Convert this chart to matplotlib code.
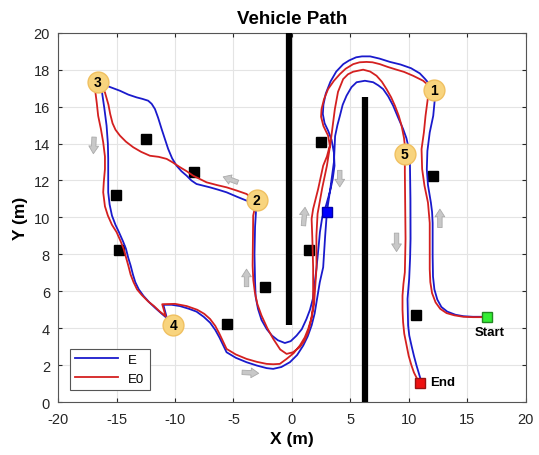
import numpy as np
import matplotlib
matplotlib.use('Agg')
import matplotlib.pyplot as plt

plt.rcParams['font.family'] = ['Liberation Sans', 'DejaVu Sans']
plt.rcParams['axes.unicode_minus'] = False

# path of controller E (blue), start -> end
e_x = [16.3, 15.5, 14.7, 14.0, 13.3, 12.8, 12.45, 12.2, 12.08, 12.05, 12.05, 12.0, 11.9, 11.65, 11.55, 11.6,
       11.8, 12.1, 12.25, 12.13,
       11.8, 11.4, 10.95, 10.2, 9.3, 8.4, 7.5, 6.7, 6.0, 5.5, 4.9, 4.4, 3.8, 3.3, 2.9, 2.7, 2.65, 2.8, 3.1,
       3.4, 3.6, 3.65, 3.5, 3.3, 2.95, 2.6, 2.4, 2.3, 2.1, 1.95, 1.8, 1.55, 1.25, 0.85, 0.4, -0.1, -0.6,
       -1.2, -1.7, -2.15, -2.6, -2.9, -3.1, -3.15, -3.2, -3.15, -3.02,
       -3.88, -4.7, -5.59, -6.3, -7.02, -8.16, -8.6, -9.01, -9.45, -9.87, -10.25, -10.59, -10.9, -11.15,
       -11.45, -11.72, -12.0, -12.3, -12.8, -13.29, -14.0, -14.72, -15.86, -16.5,
       -16.29, -16.05, -15.86, -15.75, -15.72, -15.72, -15.72, -15.6, -15.4, -15.1, -14.8, -14.45, -14.2,
       -14.0, -13.8, -13.6, -13.4, -13.1, -12.7, -12.2, -11.7, -11.2, -10.7, -11.0,
       -10.3, -9.58, -8.8, -8.16, -7.55, -7.0, -6.55, -6.2, -5.9, -5.59, -4.8, -3.88, -3.0, -2.16, -1.6,
       -0.9, -0.17, 0.45, 0.97, 1.35, 1.69, 1.95, 2.11, 2.39, 2.68, 2.85, 3.0,
       3.3, 3.6, 3.7, 3.9, 4.11, 4.35, 4.68, 5.1, 5.54, 6.25, 6.96, 7.4, 7.81, 8.25, 8.67, 9.1, 9.52,
       9.8, 9.95, 10.1, 10.15, 10.16, 10.12, 10.04, 9.9, 9.92, 9.95, 10.05, 10.24, 10.45, 10.67, 11.01]
e_y = [4.62, 4.62, 4.65, 4.73, 4.9, 5.15, 5.55, 6.1, 6.8, 7.9, 9.7, 10.3, 10.8, 11.75, 12.6, 13.6,
       14.6, 15.5, 16.5, 16.92,
       17.2, 17.5, 17.8, 18.08, 18.28, 18.42, 18.6, 18.72, 18.72, 18.67, 18.5, 18.3, 17.9, 17.35, 16.7, 16.1, 15.6, 15.1, 14.7,
       14.2, 13.5, 12.8, 12.1, 11.5, 10.7, 10.0, 9.2, 8.5, 7.2, 6.4, 5.6, 5.0, 4.5, 3.95, 3.6, 3.3, 3.2,
       3.35, 3.6, 3.95, 4.45, 5.05, 5.7, 6.5, 8.0, 9.5, 10.85,
       10.91, 11.12, 11.36, 11.5, 11.63, 11.81, 12.0, 12.26, 12.5, 12.8, 13.2, 13.71, 14.3, 14.79,
       15.4, 15.87, 16.15, 16.32, 16.42, 16.5, 16.65, 16.86, 17.13, 17.3,
       16.95, 15.9, 14.97, 14.0, 13.17, 12.2, 11.36, 10.7, 10.1, 9.6, 9.2, 8.7, 8.3,
       7.8, 7.39, 6.9, 6.49, 6.1, 5.75, 5.4, 5.1, 4.82, 4.55, 5.27,
       5.27, 5.2, 5.05, 4.9, 4.62, 4.3, 3.9, 3.5, 3.1, 2.7, 2.4, 2.16, 1.98, 1.84, 1.8,
       1.9, 2.16, 2.55, 3.06, 3.55, 4.15, 4.8, 5.41, 6.49, 7.3, 9.0, 10.3,
       11.6, 13.0, 14.4, 15.0, 15.5, 16.1, 16.59, 17.05, 17.32, 17.4, 17.32, 17.15, 16.95, 16.55, 16.05, 15.4, 14.79,
       14.3, 13.89, 13.17, 11.0, 8.84, 7.8, 6.67, 5.59, 4.9, 4.15, 3.6, 3.06, 2.5, 1.98, 1.26]

# path of controller E0 (red)
e0_x = [16.3, 15.5, 14.67, 13.9, 13.24, 12.7, 12.3, 12.0, 11.85, 11.8, 11.8, 11.8, 11.65, 11.35, 11.15, 11.1,
        11.3, 11.44, 11.67, 11.9,
        11.6, 11.24, 10.38, 9.6, 8.96, 8.2, 7.53, 6.9, 6.39, 5.8, 5.25, 4.6, 4.11, 3.6, 3.1, 2.75, 2.54, 2.5,
        2.7, 3.1, 3.25, 3.0, 2.68, 2.25, 1.82, 1.69, 1.75, 1.82, 1.82,
        1.65, 1.4, 1.05, 0.68, 0.1, -0.45, -1.0, -1.6, -2.1, -2.6, -2.95, -3.17, -3.3, -3.36, -3.33, -3.31, -3.05,
        -3.88, -4.7, -5.59, -6.4, -7.3, -8.45, -9.0, -9.58, -10.2, -10.72, -11.4, -12.15, -12.9, -13.58, -14.2,
        -14.72, -15.1, -15.35, -15.55, -15.7, -16.0, -16.5,
        -16.85, -16.7, -16.58, -16.35, -16.15, -16.0, -16.0, -16.1, -16.15, -16.0, -15.75, -15.4, -15.0, -14.65,
        -14.4, -14.2, -14.0, -13.8, -13.55, -13.25, -12.85, -12.3, -11.8, -11.3, -10.8, -11.1,
        -10.0, -9.0, -8.1, -7.5, -7.0, -6.55, -6.2, -5.9, -5.59, -4.8, -3.88, -3.0, -2.16, -1.6, -1.03, -0.45,
        0.15, 0.68, 1.1, 1.4, 1.7, 1.9, 2.11, 2.1, 2.2,
        2.6, 3.0, 3.3, 3.5, 3.68, 3.95, 4.39, 4.8, 5.25, 6.1, 6.7, 7.25, 7.7, 8.1, 8.5, 8.82, 9.15, 9.39, 9.6,
        9.67, 9.67, 9.67, 9.7, 9.73, 9.7, 9.67, 9.55, 9.47, 9.47, 9.52, 9.62, 9.82, 10.0, 10.24, 10.45, 10.72]
e0_y = [4.6, 4.6, 4.62, 4.7, 4.82, 5.05, 5.4, 5.9, 6.5, 7.2, 7.9, 9.7, 10.8, 11.72, 12.62, 13.7,
        14.6, 15.5, 16.6, 16.95,
        17.2, 17.4, 17.67, 17.88, 18.0, 18.15, 18.3, 18.4, 18.42, 18.4, 18.3, 18.05, 17.76, 17.4, 16.95, 16.4, 15.87, 15.45,
        14.95, 14.43, 13.89, 13.3, 12.8, 11.54, 10.46, 9.92, 8.9, 7.3, 5.23,
        4.45, 3.79, 3.3, 2.98, 2.7, 2.61, 2.85, 3.43, 4.0, 4.69, 5.3, 5.95, 6.6, 7.39, 8.8, 10.1, 10.85,
        11.27, 11.45, 11.63, 11.75, 11.9, 12.26, 12.5, 12.72, 12.98, 13.17, 13.28, 13.34, 13.55, 13.8, 14.1,
        14.43, 14.75, 15.1, 15.6, 16.1, 16.77, 17.3,
        16.95, 16.2, 15.5, 14.8, 14.07, 13.3, 12.62, 11.9, 11.36, 10.6, 10.1, 9.6, 9.2, 8.7,
        8.3, 7.85, 7.39, 6.9, 6.49, 6.1, 5.8, 5.45, 5.2, 4.9, 4.65, 5.3,
        5.32, 5.2, 5.0, 4.78, 4.5, 4.12, 3.7, 3.3, 2.88, 2.58, 2.34, 2.18, 2.07, 2.05, 2.07, 2.34,
        2.65, 3.06, 3.5, 3.97, 4.6, 5.3, 7.3, 9.0, 10.2,
        11.6, 12.8, 14.0, 15.0, 15.87, 16.8, 17.49, 17.75, 17.89, 18.0, 17.9, 17.67, 17.35, 16.95, 16.5, 16.05, 15.5, 14.97, 14.3,
        13.89, 13.44, 12.45, 10.6, 8.84, 7.9, 7.03, 6.4, 5.77, 5.0, 4.33, 3.7, 3.06, 2.5, 1.98, 1.6, 1.26]

# walls
wall_x = [-0.25, 6.25]
wall_y0 = [4.2, 0.0]
wall_y1 = [20.0, 16.5]

# obstacles
obs_x = [-12.52, -8.39, -15.04, -14.8, -5.59, -2.31, 2.48, 1.49, 12.07, 10.59]
obs_y = [14.25, 12.45, 11.23, 8.24, 4.22, 6.24, 14.07, 8.24, 12.26, 4.74]

# waypoint labels
wp_lab = ['1', '2', '3', '4', '5']
wp_x = [12.13, -3.02, -16.63, -10.16, 9.67]
wp_y = [16.92, 10.95, 17.35, 4.18, 13.44]

# direction arrows (tail, head)
arr_tail = [(-16.92, 14.5), (-4.4, 11.85), (-3.88, 6.1), (-4.5, 1.62), (0.97, 9.4), (4.1, 12.7), (8.96, 9.3), (12.67, 9.3)]
arr_head = [(-17.0, 13.3), (-6.1, 12.25), (-3.88, 7.35), (-2.6, 1.55), (1.15, 10.7), (4.1, 11.5), (8.96, 8.0), (12.67, 10.6)]

start = (16.71, 4.63)
end = (10.98, 1.04)
mid = (2.97, 10.28)

fig = plt.figure(figsize=(5.39, 4.56), dpi=100)
ax = fig.add_axes([0.108, 0.116, 0.867, 0.81])

for x, y0, y1 in zip(wall_x, wall_y0, wall_y1):
    ax.plot([x, x], [y0, y1], color='k', lw=4.5, solid_capstyle='butt', zorder=3)

ax.plot(obs_x, obs_y, 's', color='k', ms=7.5, zorder=3)

for t, h in zip(arr_tail, arr_head):
    ax.annotate('', xy=h, xytext=t,
                arrowprops=dict(arrowstyle='simple,head_length=0.55,head_width=0.7,tail_width=0.32',
                                fc='#c8c8c8', ec='#aaaaaa', lw=0.6), zorder=2)

ax.plot(e_x, e_y, color='#1a1acc', lw=1.3, label='E', zorder=4, solid_joinstyle='round')
ax.plot(e0_x, e0_y, color='#d42020', lw=1.3, label='E0', zorder=4, solid_joinstyle='round')

ax.plot(*mid, 's', color='#0000ff', mec='#0000aa', ms=7.5, zorder=5)
ax.plot(*start, 's', color='#33ee33', mec='#228822', ms=7.5, zorder=5)
ax.plot(*end, 's', color='#ee1111', mec='#991111', ms=7.5, zorder=5)
ax.text(start[0] + 0.2, start[1] - 0.85, 'Start', fontsize=9.5, fontweight='bold', ha='center', va='center', zorder=6)
ax.text(end[0] + 0.85, end[1] + 0.05, 'End', fontsize=9.5, fontweight='bold', ha='left', va='center', zorder=6)

for lab, x, y in zip(wp_lab, wp_x, wp_y):
    ax.plot(x, y, 'o', color='#f8d47e', mec='#f0c060', ms=15, zorder=6)
    ax.text(x, y, lab, fontsize=10, fontweight='bold', ha='center', va='center', zorder=7)

ax.set_xlim(-20, 20)
ax.set_ylim(0, 20)
ax.set_xticks(np.arange(-20, 21, 5))
ax.set_yticks(np.arange(0, 21, 2))
ax.grid(True, color='#e4e4e4', lw=0.8)
ax.set_axisbelow(True)
ax.tick_params(direction='in', length=3, labelsize=10.5, colors='#262626', top=True, right=True)
ax.tick_params(axis='x', pad=7)
ax.tick_params(axis='y', pad=6)
for s in ax.spines.values():
    s.set_color('#555555')
    s.set_linewidth(0.8)

ax.set_title('Vehicle Path', fontsize=13.5, fontweight='bold', pad=7)
ax.set_xlabel('X (m)', fontsize=12.5, fontweight='bold', labelpad=4)
ax.set_ylabel('Y (m)', fontsize=12.5, fontweight='bold', labelpad=4)

leg = ax.legend(loc='lower left', fontsize=9.5, fancybox=False, edgecolor='#555555', framealpha=1,
                handlelength=3.2, borderaxespad=0.9)
leg.get_frame().set_linewidth(0.8)

fig.savefig('out.png', dpi=100)
